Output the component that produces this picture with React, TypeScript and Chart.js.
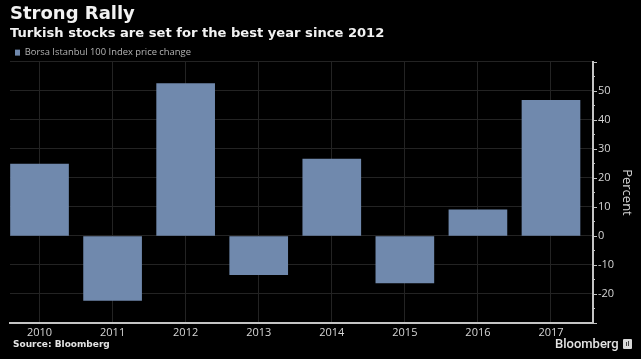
import React, { useEffect, useRef } from "react";
import { Chart, registerables } from "chart.js";

Chart.register(...registerables);

const years = [2010, 2011, 2012, 2013, 2014, 2015, 2016, 2017];
const changes = [24.8, -22.2, 52.5, -13.3, 26.5, -16.2, 9, 46.8];
const seriesName = "Borsa Istanbul 100 Index price change";
const titleText = "Strong Rally";
const subtitleText = "Turkish stocks are set for the best year since 2012";
const sourceText = "Source: Bloomberg";
const brandText = "Bloomberg";
const yAxisTitle = "Percent";

const BAR = "#7089ad";
const TEXT = "#d6d6d6";
const GRID = "#232323";
const AXIS = "#c4c4c4";

const rightTicks = {
  id: "rightTicks",
  beforeLayout(chart: any) {
    const legend = chart.legend;
    if (legend && !legend.__patched) {
      const fit = legend.fit;
      legend.fit = function () {
        fit.call(this);
        this.height = 19;
      };
      legend.__patched = true;
    }
  },
  afterDatasetsDraw(chart: any) {
    const { ctx, scales } = chart;
    const y = scales.y;
    ctx.save();
    ctx.strokeStyle = AXIS;
    ctx.lineWidth = 1;
    y.ticks.forEach((t: any) => {
      const py = Math.round(y.getPixelForValue(t.value)) + 0.5;
      const len = t.value % 10 === 0 ? 4 : 2;
      ctx.beginPath();
      ctx.moveTo(y.left, py);
      ctx.lineTo(y.left + len, py);
      ctx.stroke();
    });
    ctx.restore();
  },
};

export default function App() {
  const ref = useRef<HTMLCanvasElement>(null);
  useEffect(() => {
    const chart = new Chart(ref.current!, {
      type: "bar",
      data: {
        datasets: [
          {
            label: seriesName,
            data: years.map((x, i) => ({ x, y: changes[i] })),
            backgroundColor: BAR,
            borderWidth: 0,
            barThickness: 58,
          },
        ],
      },
      plugins: [rightTicks],
      options: {
        animation: false,
        responsive: false,
        layout: { padding: { left: 10, right: 0, top: 0, bottom: 0 } },
        plugins: {
          tooltip: { enabled: false },
          title: {
            display: true,
            text: titleText,
            align: "start",
            color: "#f2f2f2",
            font: { family: "DejaVu Sans", size: 18, weight: "bold" },
            padding: { top: 4, bottom: 0 },
          },
          subtitle: {
            display: true,
            text: subtitleText,
            align: "start",
            color: "#f2f2f2",
            font: { family: "DejaVu Sans", size: 13.1, weight: "bold" },
            padding: { top: 0, bottom: 1.6 },
          },
          legend: {
            display: true,
            position: "top",
            align: "start",
            labels: {
              color: "#b4b4b4",
              boxWidth: 5,
              boxHeight: 6,
              padding: 5,
              font: { family: "Open Sans", size: 9.4 },
            },
          },
        },
        scales: {
          x: {
            type: "linear",
            offset: false,
            min: 2009.596,
            max: 2017.575,
            afterBuildTicks(scale: any) {
              scale.ticks = years.map((value) => ({ value }));
            },
            afterFit(scale: any) {
              scale.height = 36;
            },
            grid: { color: GRID, drawTicks: false, lineWidth: 1, offset: false },
            border: { color: AXIS, width: 2 },
            ticks: {
              color: TEXT,
              padding: 3,
              maxRotation: 0,
              autoSkip: false,
              font: { family: "Open Sans", size: 11 },
              callback: (v: any) => String(v),
            },
          },
          y: {
            position: "right",
            min: -30,
            max: 60,
            afterFit(scale: any) {
              scale.width = 48;
            },
            grid: {
              color: (c: any) => (c.tick.value % 10 === 0 ? GRID : "rgba(0,0,0,0)"),
              drawTicks: false,
            },
            border: { color: AXIS, width: 2 },
            ticks: {
              stepSize: 5,
              color: TEXT,
              padding: 5,
              align: "center",
              crossAlign: "near",
              autoSkip: false,
              font: { family: "Open Sans", size: 11 },
              callback: (v: any) => (v % 10 === 0 && v > -30 && v < 60 ? String(v) : ""),
            },
            title: {
              display: true,
              text: yAxisTitle,
              color: TEXT,
              padding: { top: 6, bottom: 0 },
              font: { family: "Open Sans", size: 13 },
            },
          },
        },
      },
    });
    return () => chart.destroy();
  }, []);

  return (
    <div style={{ position: "fixed", left: 0, top: 0, width: 641, height: 359, background: "#000", overflow: "hidden" }}>
      <div style={{ position: "absolute", inset: 0, filter: "blur(0.45px)" }}>
        <canvas ref={ref} width={641} height={359} style={{ display: "block", width: 641, height: 359 }} />
        <div style={{ position: "absolute", left: 13, top: 339, color: "#e4e4e4", font: "bold 9px 'DejaVu Sans'", whiteSpace: "nowrap" }}>{sourceText}</div>
        <div style={{ position: "absolute", left: 555, top: 336, color: "#e4e4e4", font: "500 13px Roboto" }}>{brandText}</div>
        <div style={{ position: "absolute", left: 623, top: 339, width: 9, height: 10, borderRadius: 1, background: "#d8d8d8" }}>
          <div style={{ position: "absolute", left: 3, top: 3, width: 1, height: 4, background: "#444" }} />
          <div style={{ position: "absolute", left: 5, top: 2, width: 1, height: 5, background: "#444" }} />
        </div>
      </div>
    </div>
  );
}
